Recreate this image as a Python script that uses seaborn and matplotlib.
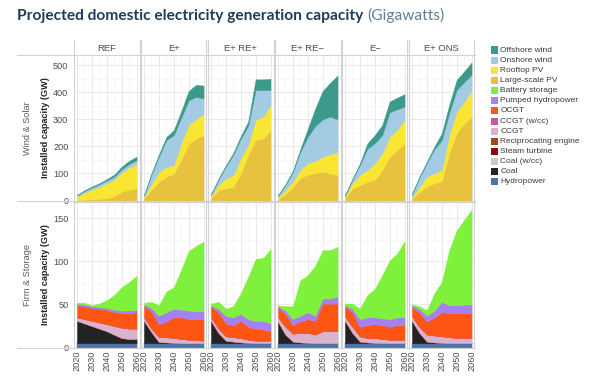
import matplotlib
matplotlib.use("Agg")
import matplotlib.pyplot as plt
from matplotlib.patches import Rectangle
from matplotlib.lines import Line2D
import seaborn as sns

# ---------------- data ----------------
years = [2020, 2025, 2030, 2035, 2040, 2045, 2050, 2055, 2060]
scenarios = ["REF", "E+", "E+ RE+", "E+ RE\u2212", "E\u2212", "E+ ONS"]

# Wind & Solar (GW)
large_scale_pv = {
    "REF": [2, 3, 5, 6, 9, 15, 33, 40, 45],
    "E+": [8, 40, 70, 88, 100, 150, 210, 230, 242],
    "E+ RE+": [8, 39, 45, 50, 100, 168, 225, 230, 260],
    "E+ RE\u2212": [5, 25, 50, 84, 95, 102, 107, 100, 94],
    "E\u2212": [8, 45, 57, 70, 76, 113, 162, 187, 211],
    "E+ ONS": [5, 33, 51, 64, 70, 175, 250, 285, 310],
}
rooftop_pv = {
    "REF": [12, 25, 35, 45, 55, 62, 70, 82, 89],
    "E+": [6, 20, 35, 37, 30, 60, 70, 70, 78],
    "E+ RE+": [6, 18, 37, 44, 56, 37, 73, 80, 93],
    "E+ RE\u2212": [5, 14, 20, 29, 43, 44, 55, 71, 84],
    "E\u2212": [6, 19, 37, 43, 61, 61, 74, 74, 87],
    "E+ ONS": [5, 18, 37, 36, 43, 67, 79, 80, 95],
}
onshore_wind = {
    "REF": [5, 7, 8, 9, 10, 11, 12, 13, 15],
    "E+": [4, 36, 57, 98, 112, 95, 90, 83, 57],
    "E+ RE+": [7, 20, 44, 75, 72, 72, 110, 98, 55],
    "E+ RE\u2212": [8, 18, 35, 67, 97, 129, 138, 139, 122],
    "E\u2212": [4, 13, 37, 78, 75, 67, 90, 76, 49],
    "E+ ONS": [13, 34, 51, 89, 110, 81, 80, 72, 60],
}
offshore_wind = {
    "REF": [2, 3, 4, 4, 5, 8, 10, 12, 13],
    "E+": [2, 4, 8, 12, 18, 25, 35, 45, 48],
    "E+ RE+": [2, 3, 5, 7, 10, 15, 40, 40, 42],
    "E+ RE\u2212": [2, 3, 5, 10, 30, 65, 105, 125, 162],
    "E\u2212": [2, 3, 6, 20, 30, 38, 40, 43, 46],
    "E+ ONS": [2, 3, 5, 10, 25, 30, 37, 40, 45],
}

# Firm & Storage (GW)
hydropower = {s: [5, 5, 5, 5, 5, 5, 5, 5, 5] for s in scenarios}
coal = {
    "REF": [26, 23, 20, 17, 14, 10, 6, 5, 5],
    "E+": [26, 13, 1.5, 1, 0.5, 0, 0, 0, 0],
    "E+ RE+": [26, 12, 3, 2, 1, 0.5, 0, 0, 0],
    "E+ RE\u2212": [25, 10, 2, 1, 0.5, 0, 0, 0, 0],
    "E\u2212": [26, 12, 2, 1, 0.5, 0, 0, 0, 0],
    "E+ ONS": [26, 12, 2, 1, 0.5, 0, 0, 0, 0],
}
coal_wcc = {s: [0, 0, 0, 0, 0, 0, 0, 0, 0] for s in scenarios}
steam_turbine = {s: [0, 0, 0, 0, 0, 0, 0, 0, 0] for s in scenarios}
reciprocating_engine = {s: [0, 0, 0, 0, 0, 0, 0, 0, 0] for s in scenarios}
ccgt = {
    "REF": [4, 5, 6, 7, 8, 10, 12, 12, 12],
    "E+": [4, 4, 5.5, 6, 5.5, 5, 4, 3.5, 3],
    "E+ RE+": [4, 5, 5, 5, 5, 3.5, 3, 3, 3],
    "E+ RE\u2212": [5, 9, 9, 11, 11.5, 10, 14, 14, 14],
    "E\u2212": [5, 7, 6, 5, 5.5, 5, 4, 4, 4],
    "E+ ONS": [5, 7, 8, 8, 7.5, 7, 6, 6, 6],
}
ccgt_wcc = {s: [0, 0, 0, 0, 0, 0, 0, 0, 0] for s in scenarios}
ocgt = {
    "REF": [14, 15, 15, 16, 17, 16, 17, 18, 19],
    "E+": [13, 20, 15, 18, 24, 25, 24, 24.5, 25],
    "E+ RE+": [13, 19, 15, 14, 20, 15, 14, 13, 11],
    "E+ RE\u2212": [12, 15, 10, 13, 16, 16, 32, 32, 32],
    "E\u2212": [12, 17, 11, 15, 16, 16, 15, 17, 17],
    "E+ ONS": [11, 17, 15, 21, 28, 28, 29, 29, 29],
}
pumped_hydro = {
    "REF": [2, 2, 2, 2, 2, 3, 3, 3, 3],
    "E+": [2, 4, 10, 11, 10, 9, 10, 9, 9],
    "E+ RE+": [1, 4, 9, 9, 8, 9, 9, 10, 9],
    "E+ RE\u2212": [1, 4, 7, 7, 8, 6, 6, 6, 8],
    "E\u2212": [1, 4, 9, 9, 8, 8, 9, 9, 9],
    "E+ ONS": [2, 4, 7, 8, 12, 9, 9, 10, 10],
}
battery = {
    "REF": [1, 2, 1, 4, 9, 17, 27, 33, 39],
    "E+": [2, 7, 12, 24, 25, 46, 69, 76, 81],
    "E+ RE+": [2, 8, 8, 13, 24, 49, 72, 73, 86],
    "E+ RE\u2212": [1, 5, 15, 41, 43, 58, 56, 56, 58],
    "E\u2212": [2, 6, 12, 26, 33, 50, 68, 74, 88],
    "E+ ONS": [1, 3, 6, 20, 23, 64, 87, 98, 110],
}

legend_labels = ["Offshore wind", "Onshore wind", "Rooftop PV", "Large-scale PV",
                 "Battery storage", "Pumped hydropower", "OCGT", "CCGT (w/cc)",
                 "CCGT", "Reciprocating engine", "Steam turbine", "Coal (w/cc)",
                 "Coal", "Hydropower"]
legend_colors = ["#3d9a8b", "#a3cbe4", "#f9e632", "#e8c13e",
                 "#7ff03c", "#a67ff0", "#fc5514", "#c25c9c",
                 "#d9b3cd", "#a8451b", "#8c0b0b", "#c9c9c9",
                 "#232323", "#5074a6"]
col = dict(zip(legend_labels, legend_colors))

# ---------------- style ----------------
sns.set_theme(style="white")
plt.rcParams["font.family"] = ["Liberation Sans", "DejaVu Sans"]

W, H = 600, 382
fig = plt.figure(figsize=(W / 100, H / 100), dpi=100)


def box(x0, y0, x1, y1):
    return [x0 / W, 1 - y1 / H, (x1 - x0) / W, (y1 - y0) / H]


lefts = [74, 141, 208, 275, 342, 409]
pw = 65.5
rows = [(55, 200.5), (202, 347.5)]
GRID = "#e6e6e6"
BORDER = "#d2d2d2"
TXT = "#4d4d4d"

for r, (y0, y1) in enumerate(rows):
    for c, scen in enumerate(scenarios):
        x0 = lefts[c]
        ax = fig.add_axes(box(x0, y0, x0 + pw, y1))
        if r == 0:
            series = [large_scale_pv[scen], rooftop_pv[scen], onshore_wind[scen], offshore_wind[scen]]
            names = ["Large-scale PV", "Rooftop PV", "Onshore wind", "Offshore wind"]
            ax.set_ylim(0, 538)
            ax.set_yticks([0, 100, 200, 300, 400, 500])
            ax.set_yticks([50, 150, 250, 350, 450], minor=True)
        else:
            series = [hydropower[scen], coal[scen], coal_wcc[scen], steam_turbine[scen],
                      reciprocating_engine[scen], ccgt[scen], ccgt_wcc[scen], ocgt[scen],
                      pumped_hydro[scen], battery[scen]]
            names = ["Hydropower", "Coal", "Coal (w/cc)", "Steam turbine",
                     "Reciprocating engine", "CCGT", "CCGT (w/cc)", "OCGT",
                     "Pumped hydropower", "Battery storage"]
            ax.set_ylim(0, 169)
            ax.set_yticks([0, 50, 100, 150])
            ax.set_yticks([25, 75, 125], minor=True)
        colors = [col[n] for n in names]
        polys = ax.stackplot(years, *series, colors=colors, linewidth=0.3)
        for p, cc in zip(polys, colors):
            p.set_edgecolor(cc)
        ax.set_xlim(2018, 2062)
        ax.set_xticks([2020, 2030, 2040, 2050, 2060])
        ax.set_xticks([2025, 2035, 2045, 2055], minor=True)
        ax.grid(True, which="major", color=GRID, lw=0.6)
        ax.grid(True, which="minor", color="#f2f2f2", lw=0.4)
        ax.set_axisbelow(True)
        for s in ax.spines.values():
            s.set_color(BORDER)
            s.set_linewidth(0.8)
        ax.tick_params(length=0, labelsize=6.6, labelcolor=TXT)
        ax.tick_params(axis="y", pad=4)
        ax.tick_params(axis="x", pad=2.5, rotation=90)
        if c != 0:
            ax.set_yticklabels([])
        if r == 0:
            ax.set_xticklabels([])
            sax = fig.add_axes(box(x0, 40, x0 + pw, 55))
            sax.set_xticks([])
            sax.set_yticks([])
            for k, s in sax.spines.items():
                s.set_visible(k in ("left", "right"))
                s.set_color(BORDER)
                s.set_linewidth(0.8)
            sax.patch.set_alpha(0)
            sax.text(0.5, 0.45, scen, ha="center", va="center", fontsize=6.8,
                     color=TXT, transform=sax.transAxes)

# row separators extending into the label area
for yy in (55, 201, 348):
    fig.add_artist(Line2D([17 / W, 74 / W], [1 - yy / H, 1 - yy / H],
                          transform=fig.transFigure, color=BORDER, lw=0.8))

# row labels
for (y0, y1), lab in zip(rows, ["Wind & Solar", "Firm & Storage"]):
    yc = 1 - (y0 + y1) / 2 / H
    fig.text(27 / W, yc, lab, rotation=90, ha="center", va="center",
             fontsize=6.6, color="#5a5a5a")
    fig.text(45 / W, yc, "Installed capacity (GW)", rotation=90, ha="center",
             va="center", fontsize=6.6, color="#222222", fontweight="bold")

# title
t1 = fig.text(17 / W, 1 - 20 / H, "Projected domestic electricity generation capacity",
              fontsize=11.2, fontweight="bold", color="#1f3d58", va="baseline",
              family=["Lato", "DejaVu Sans"])
fig.canvas.draw()
bb = t1.get_window_extent()
fig.text((bb.x1 + 4) / W, 1 - 20 / H, "(Gigawatts)", fontsize=11.2,
         color="#5f7f96", va="baseline", family=["Lato", "DejaVu Sans"])

# legend
for i, (lab, cc) in enumerate(zip(legend_labels, legend_colors)):
    yc = 50 + i * 10.15
    fig.add_artist(Rectangle((490.5 / W, 1 - (yc + 3.5) / H), 7 / W, 7 / H,
                             transform=fig.transFigure, facecolor=cc, edgecolor="none"))
    fig.text(500.5 / W, 1 - yc / H, lab, ha="left", va="center", fontsize=6.0,
             color="#3a3a3a")

fig.savefig("out.png", dpi=100)
